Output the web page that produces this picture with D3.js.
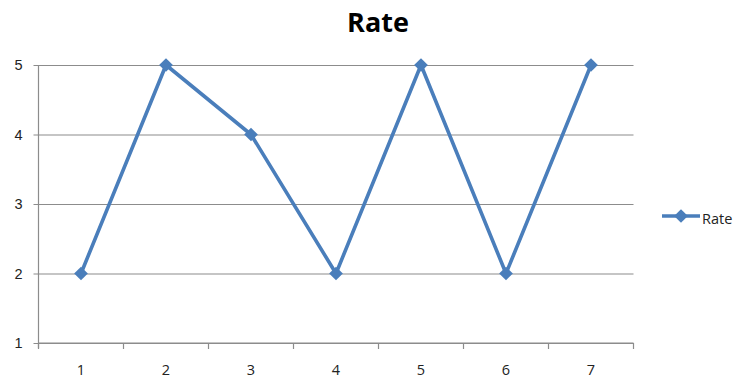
<!DOCTYPE html>
<html>
<head>
<meta charset="utf-8">
<script src="https://cdn.jsdelivr.net/npm/d3@7"></script>
<style>
  html, body { margin: 0; padding: 0; background: #fff; }
  svg { display: block; font-family: "Open Sans", "Noto Sans", sans-serif; }
</style>
</head>
<body>
<svg id="chart" width="738" height="380"></svg>
<script>
// Series data
const categories = [1, 2, 3, 4, 5, 6, 7];
const rateValues = [2, 5, 4, 2, 5, 2, 5];
const yTicks = [1, 2, 3, 4, 5];
const seriesName = "Rate";

const svg = d3.select("#chart");
const plot = { left: 38.5, right: 633.5, top: 65, bottom: 343 };
const lineColor = "#4a7ebb";
const gridColor = "#8c8c8c";
const labelColor = "#222";

const x = d3.scaleBand().domain(categories).range([plot.left, plot.right]);
const y = d3.scaleLinear().domain([1, 5]).range([plot.bottom, plot.top]);

// Title
svg.append("text")
  .attr("x", 378).attr("y", 32)
  .attr("text-anchor", "middle")
  .attr("font-size", 27).attr("font-weight", "bold")
  .attr("fill", "#000")
  .text("Rate");

// Horizontal gridlines with the left axis labels
const yAxis = d3.axisLeft(y).tickValues(yTicks)
  .tickSize(-(plot.right - plot.left)).tickPadding(16)
  .tickFormat(d3.format("d"));
const gy = svg.append("g").attr("transform", `translate(${plot.left},0)`).call(yAxis);
gy.select(".domain").remove();
gy.selectAll(".tick line").attr("stroke", gridColor).attr("stroke-width", 1.2)
  .attr("x1", -5).attr("x2", plot.right - plot.left);
gy.selectAll(".tick text").attr("font-size", 14.5).attr("fill", labelColor);

// Vertical axis line
svg.append("line")
  .attr("x1", plot.left).attr("x2", plot.left)
  .attr("y1", plot.top).attr("y2", plot.bottom + 5)
  .attr("stroke", gridColor).attr("stroke-width", 1.2);

// Category axis: ticks sit between categories
const gx = svg.append("g").attr("transform", `translate(0,${plot.bottom})`);
gx.append("line")
  .attr("x1", plot.left).attr("x2", plot.right)
  .attr("stroke", gridColor).attr("stroke-width", 1.2);
const boundaries = categories.map(c => x(c)).concat([x(categories[categories.length - 1]) + x.bandwidth()]);
gx.selectAll("line.sep").data(boundaries).join("line")
  .attr("class", "sep")
  .attr("x1", d => d).attr("x2", d => d)
  .attr("y1", 0).attr("y2", 6)
  .attr("stroke", gridColor).attr("stroke-width", 1.2);
gx.selectAll("text").data(categories).join("text")
  .attr("x", d => x(d) + x.bandwidth() / 2)
  .attr("y", 32)
  .attr("text-anchor", "middle")
  .attr("font-size", 14.5).attr("fill", labelColor)
  .text(d => d);

// Series line
const pts = categories.map((c, i) => ({ c, v: rateValues[i] }));
const cx = d => x(d.c) + x.bandwidth() / 2;
svg.append("path")
  .datum(pts)
  .attr("fill", "none")
  .attr("stroke", lineColor)
  .attr("stroke-width", 3.6)
  .attr("stroke-linejoin", "round")
  .attr("d", d3.line().x(cx).y(d => y(d.v)));

// Diamond markers
const diamond = d3.symbol().type(d3.symbolDiamond2).size(120);
svg.selectAll("path.marker").data(pts).join("path")
  .attr("class", "marker")
  .attr("transform", d => `translate(${cx(d)},${y(d.v)})`)
  .attr("d", diamond)
  .attr("fill", lineColor);

// Legend
const lg = svg.append("g").attr("transform", "translate(662,216)");
lg.append("line").attr("x1", 0).attr("x2", 38)
  .attr("stroke", lineColor).attr("stroke-width", 3.6);
lg.append("path").attr("transform", "translate(19,0)")
  .attr("d", diamond).attr("fill", lineColor);
lg.append("text").attr("x", 40).attr("y", 7.5)
  .attr("font-size", 14.5).attr("fill", labelColor)
  .text(seriesName);
</script>
</body>
</html>
